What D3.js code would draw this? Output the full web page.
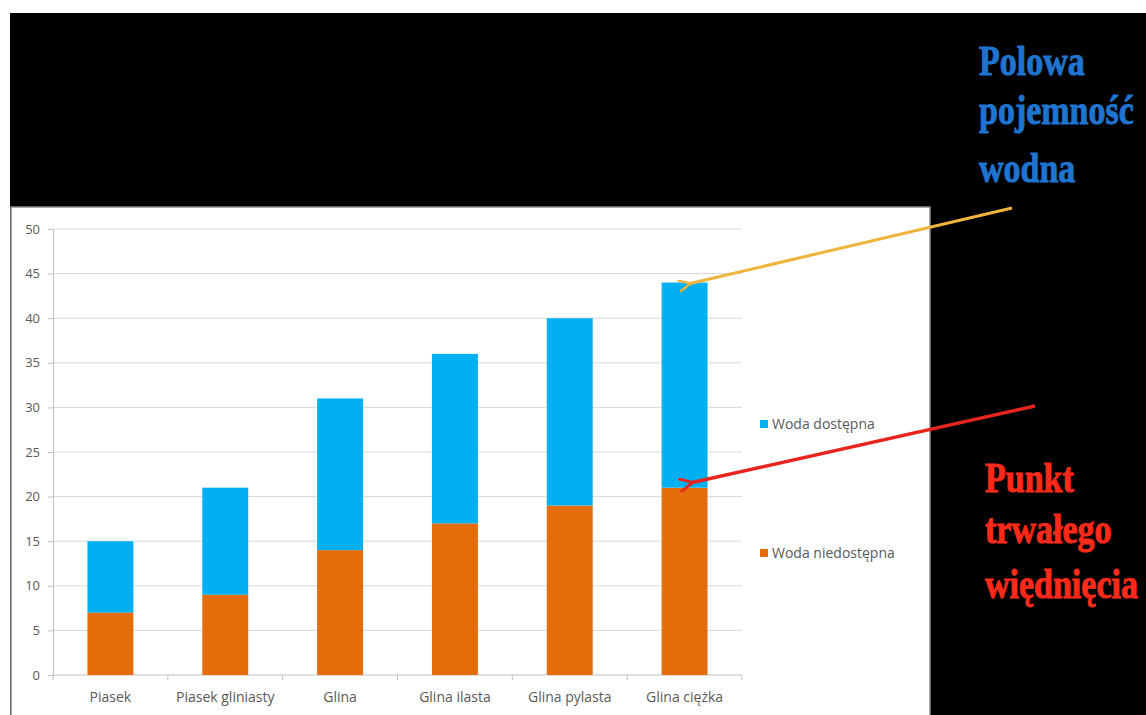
<!DOCTYPE html>
<html>
<head>
<meta charset="utf-8">
<script src="https://cdn.jsdelivr.net/npm/d3@7"></script>
<style>
  html, body { margin: 0; padding: 0; background: #fff; }
  svg { display: block; }
</style>
</head>
<body>
<svg id="chart" width="1146" height="715"></svg>
<script>
// Soil water: unavailable (wilting point) + available (up to field capacity)
const categories = ["Piasek", "Piasek gliniasty", "Glina", "Glina ilasta", "Glina pylasta", "Glina ciężka"];
const unavailable = [7, 9, 14, 17, 19, 21];   // Woda niedostępna
const available = [8, 12, 17, 19, 21, 23];    // Woda dostępna (stacked on top)
const yTicks = [0, 5, 10, 15, 20, 25, 30, 35, 40, 45, 50];
const seriesNames = ["Woda dostępna", "Woda niedostępna"];
const seriesColors = ["#00b0f0", "#e46c0a"];

const blueLines = ["Polowa", "pojemność", "wodna"];
const redLines = ["Punkt", "trwałego", "więdnięcia"];

const svg = d3.select("#chart");
const sans = "Open Sans, Noto Sans, sans-serif";

// background: black slide on a thin white frame
svg.append("rect").attr("x", 10).attr("y", 13).attr("width", 1136).attr("height", 702).attr("fill", "#000");

// chart panel
svg.append("rect")
  .attr("x", 11).attr("y", 207).attr("width", 919).attr("height", 510)
  .attr("fill", "#fff").attr("stroke", "#8c8c8c").attr("stroke-width", 1.5);

const plot = { left: 53, right: 742, top: 229, bottom: 675 };

const x = d3.scaleBand()
  .domain(categories)
  .range([plot.left, plot.right])
  .paddingInner(0.6)
  .paddingOuter(0.3);

const y = d3.scaleLinear().domain([0, 50]).range([plot.bottom, plot.top]);

// gridlines
svg.append("g")
  .selectAll("line")
  .data(yTicks.filter((d) => d > 0))
  .join("line")
  .attr("x1", plot.left).attr("x2", plot.right)
  .attr("y1", (d) => y(d)).attr("y2", (d) => y(d))
  .attr("stroke", "#d9d9d9").attr("stroke-width", 1);

// y axis
const yAxisG = svg.append("g")
  .attr("transform", `translate(${plot.left},0)`)
  .call(d3.axisLeft(y).tickValues(yTicks).tickSize(5).tickPadding(8));
yAxisG.select(".domain").attr("stroke", "#bfbfbf");
yAxisG.selectAll(".tick line").attr("stroke", "#bfbfbf");
yAxisG.selectAll("text")
  .attr("fill", "#595959")
  .attr("font-family", sans)
  .attr("font-size", 13);

// x axis: ticks between categories like Excel
const boundaries = d3.range(categories.length + 1).map((i) => plot.left + i * (plot.right - plot.left) / categories.length);
const xAxisG = svg.append("g");
xAxisG.append("line")
  .attr("x1", plot.left).attr("x2", plot.right)
  .attr("y1", plot.bottom).attr("y2", plot.bottom)
  .attr("stroke", "#bfbfbf");
xAxisG.selectAll(".xt")
  .data(boundaries)
  .join("line")
  .attr("class", "xt")
  .attr("x1", (d) => d).attr("x2", (d) => d)
  .attr("y1", plot.bottom).attr("y2", plot.bottom + 5)
  .attr("stroke", "#bfbfbf");
xAxisG.selectAll("text")
  .data(categories)
  .join("text")
  .attr("x", (d) => x(d) + x.bandwidth() / 2)
  .attr("y", plot.bottom + 27)
  .attr("text-anchor", "middle")
  .attr("fill", "#595959")
  .attr("font-family", sans)
  .attr("font-size", 14)
  .text((d) => d);

// stacked bars
const rows = categories.map((c, i) => ({ cat: c, low: unavailable[i], high: available[i] }));
const bars = svg.append("g");
bars.selectAll(".low")
  .data(rows)
  .join("rect")
  .attr("class", "low")
  .attr("x", (d) => x(d.cat))
  .attr("width", x.bandwidth())
  .attr("y", (d) => y(d.low))
  .attr("height", (d) => y(0) - y(d.low))
  .attr("fill", seriesColors[1]);
bars.selectAll(".high")
  .data(rows)
  .join("rect")
  .attr("class", "high")
  .attr("x", (d) => x(d.cat))
  .attr("width", x.bandwidth())
  .attr("y", (d) => y(d.low + d.high))
  .attr("height", (d) => y(d.low) - y(d.low + d.high))
  .attr("fill", seriesColors[0]);

// legend
const legendY = [424, 553];
const legend = svg.append("g")
  .selectAll("g")
  .data(seriesNames)
  .join("g")
  .attr("transform", (d, i) => `translate(760,${legendY[i]})`);
legend.append("rect")
  .attr("x", 0).attr("y", -4).attr("width", 8).attr("height", 8)
  .attr("fill", (d, i) => seriesColors[i]);
legend.append("text")
  .attr("x", 12).attr("y", 5)
  .attr("fill", "#595959")
  .attr("font-family", sans)
  .attr("font-size", 14)
  .text((d) => d);

// annotation arrows
svg.append("defs").selectAll("marker")
  .data([["ah-y", "#f0b43c"], ["ah-r", "#e8241c"]])
  .join("marker")
  .attr("id", (d) => d[0])
  .attr("viewBox", "0 0 10 10")
  .attr("refX", 2).attr("refY", 5)
  .attr("markerWidth", 4).attr("markerHeight", 4)
  .attr("orient", "auto-start-reverse")
  .append("path")
  .attr("d", "M10,0 L0,5 L10,10")
  .attr("fill", "none")
  .attr("stroke", (d) => d[1])
  .attr("stroke-width", 2);

svg.append("line")
  .attr("x1", 1012).attr("y1", 208)
  .attr("x2", 688).attr("y2", 284)
  .attr("stroke", "#f0b43c").attr("stroke-width", 3)
  .attr("marker-end", "url(#ah-y)");
svg.append("line")
  .attr("x1", 1035).attr("y1", 406)
  .attr("x2", 690).attr("y2", 483)
  .attr("stroke", "#e8241c").attr("stroke-width", 3.5)
  .attr("marker-end", "url(#ah-r)");

// annotation labels: narrower font stretched vertically, like a condensed heavy serif
const serif = "Liberation Serif, DejaVu Serif, serif";
function drawLabels(lines, x0, bases, color) {
  svg.append("g")
    .selectAll("g")
    .data(lines)
    .join("g")
    .attr("transform", (d, i) => `translate(${x0},${bases[i]}) scale(1,1.25)`)
    .append("text")
    .attr("fill", color)
    .attr("stroke", color)
    .attr("stroke-width", 0.8)
    .attr("font-family", serif)
    .attr("font-weight", "bold")
    .attr("font-size", 34)
    .text((d) => d);
}
drawLabels(blueLines, 979, [75, 124, 182], "#1f74d0");
drawLabels(redLines, 985, [492, 543, 598], "#ff2a1a");
</script>
</body>
</html>
